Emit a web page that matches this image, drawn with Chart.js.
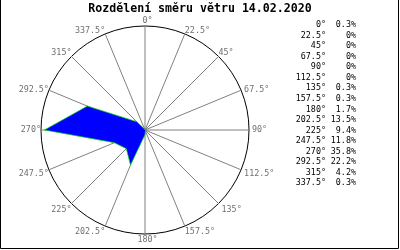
<!DOCTYPE html>
<html lang="cs">
<head>
    <meta charset="UTF-8">
    <title>Rozdělení směru větru</title>
    <script src="https://cdn.jsdelivr.net/npm/chart.js"></script>
    <style>
        html, body { margin: 0; padding: 0; background: #ffffff; }
        #wrap { position: relative; width: 400px; height: 250px; }
    </style>
</head>
<body>
    <div id="wrap"><canvas id="windChart" width="400" height="250"></canvas></div>

    <script>
        // Data
        const chartTitle = 'Rozdělení směru větru 14.02.2020';
        const directions = [0, 22.5, 45, 67.5, 90, 112.5, 135, 157.5, 180, 202.5, 225, 247.5, 270, 292.5, 315, 337.5];
        const shares = [0.3, 0, 0, 0, 0, 0, 0.3, 0.3, 1.7, 13.5, 9.4, 11.8, 35.8, 22.2, 4.2, 0.3];
        const scaleMax = 37;

        const dirLabels = directions.map(d => d + '°');
        const shareLabels = shares.map(v => v + '%');
        const monoFont = '"DejaVu Sans Mono", "Liberation Mono", monospace';

        // Title, direction labels, table on the right and frame
        const windExtras = {
            id: 'windExtras',
            afterDraw(chart) {
                const ctx = chart.ctx;
                const r = chart.scales.r;
                ctx.save();

                // frame (no top edge in the reference)
                ctx.strokeStyle = '#000';
                ctx.lineWidth = 1;
                ctx.beginPath();
                ctx.moveTo(0.5, 0);
                ctx.lineTo(0.5, 248.5);
                ctx.lineTo(398.5, 248.5);
                ctx.lineTo(398.5, 0);
                ctx.stroke();

                // title
                ctx.fillStyle = '#000';
                ctx.font = 'bold 11.6px ' + monoFont;
                ctx.textAlign = 'center';
                ctx.textBaseline = 'middle';
                ctx.fillText(chartTitle, 200, 9);

                // direction labels round the circle
                ctx.font = '8.4px ' + monoFont;
                ctx.fillStyle = '#707070';
                dirLabels.forEach((txt, i) => {
                    const a = directions[i];
                    const p = r.getPointPosition(i, r.drawingArea);
                    let x = p.x, y = p.y;
                    if (a === 0 || a === 180) {
                        const w = ctx.measureText(String(directions[i])).width;
                        ctx.textAlign = 'left';
                        x = p.x - w / 2;
                    } else if (a < 180) {
                        ctx.textAlign = 'left';
                        x = p.x + (a > 60 && a < 150 ? 3 : 0);
                    } else {
                        ctx.textAlign = 'right';
                        x = p.x;
                    }
                    if (a < 60 || a > 300) {
                        ctx.textBaseline = 'bottom';
                        y = p.y + (a === 0 ? -1 : 1);
                    } else if ((a >= 60 && a <= 90) || (a >= 270 && a <= 300)) {
                        ctx.textBaseline = 'middle';
                    } else {
                        ctx.textBaseline = 'top';
                        y = p.y + (a === 112.5 || a === 247.5 ? 0 : 2);
                    }
                    ctx.fillText(txt, x, y);
                });

                // table on the right
                ctx.fillStyle = '#000';
                ctx.textBaseline = 'middle';
                ctx.textAlign = 'right';
                dirLabels.forEach((txt, i) => {
                    const y = 25 + i * 10.55;
                    ctx.fillText(txt, 326, y);
                    ctx.fillText(shareLabels[i], 356, y);
                });

                ctx.restore();
            }
        };

        new Chart(document.getElementById('windChart'), {
            type: 'radar',
            data: {
                labels: dirLabels,
                datasets: [{
                    data: shares,
                    fill: true,
                    backgroundColor: '#0000ff',
                    borderColor: '#00e000',
                    borderWidth: 0.7,
                    pointRadius: 0,
                    tension: 0
                }]
            },
            options: {
                responsive: false,
                animation: false,
                events: [],
                layout: { padding: { left: 41, right: 151, top: 26, bottom: 16 } },
                plugins: {
                    legend: { display: false },
                    title: { display: false },
                    tooltip: { enabled: false }
                },
                scales: {
                    r: {
                        min: 0,
                        max: scaleMax,
                        afterBuildTicks(scale) {
                            scale.ticks = [{ value: 0 }, { value: scaleMax }];
                        },
                        ticks: { display: false },
                        pointLabels: { display: false },
                        grid: { circular: true, color: '#000000', lineWidth: 1 },
                        angleLines: { color: '#808080', lineWidth: 1 }
                    }
                }
            },
            plugins: [windExtras]
        });
    </script>
</body>
</html>
